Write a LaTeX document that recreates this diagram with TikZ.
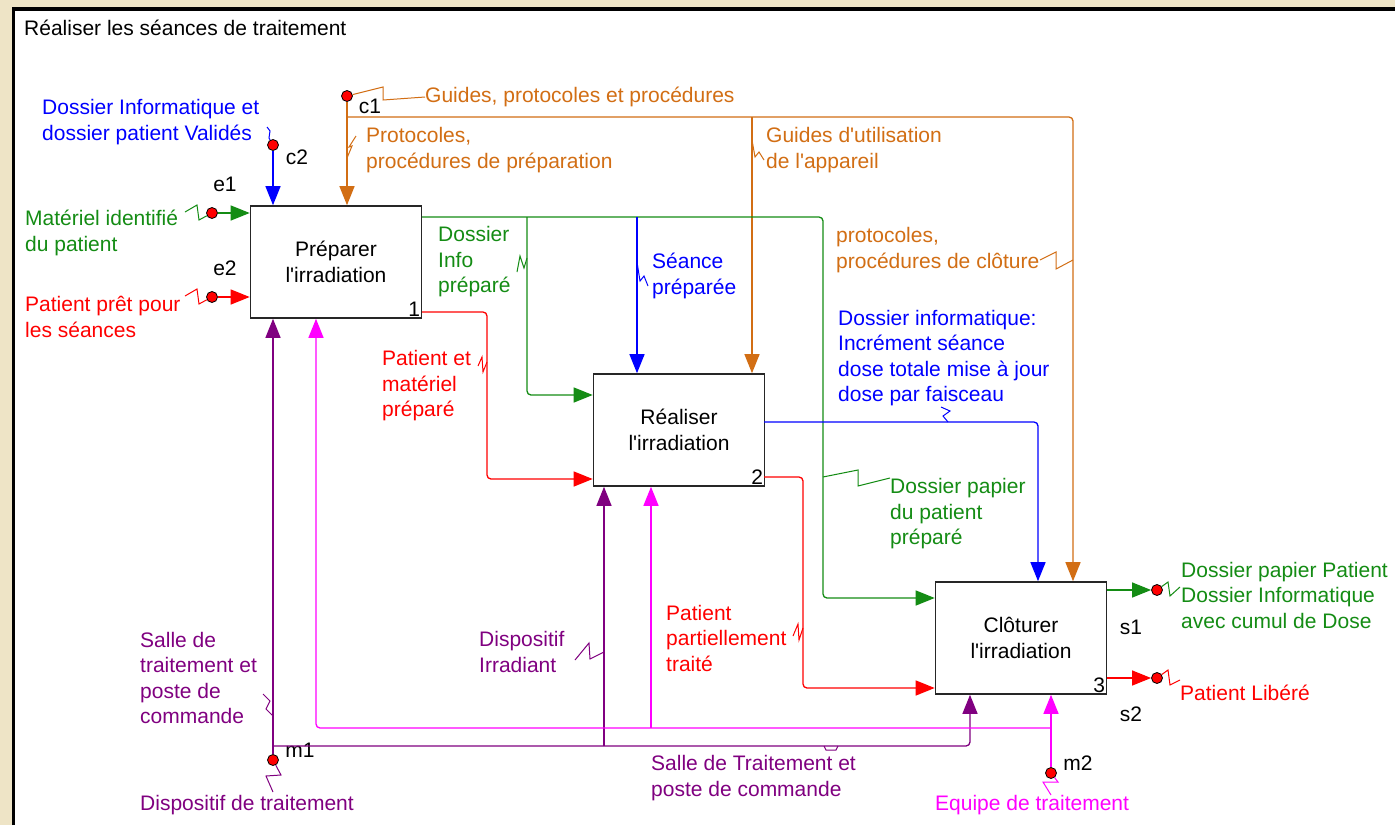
\documentclass[tikz,border=0pt]{standalone}
\usepackage{fontspec}
\setmainfont{Liberation Sans}
\usetikzlibrary{arrows.meta, positioning}

\definecolor{vert}{RGB}{20,140,20}
\definecolor{rouge}{RGB}{255,0,0}
\definecolor{bleu}{RGB}{0,0,255}
\definecolor{ocre}{RGB}{210,110,20}
\definecolor{pourpre}{RGB}{128,0,128}
\definecolor{rose}{RGB}{255,0,255}
\definecolor{fond}{RGB}{238,228,198}

\tikzstyle{Activity} = [rectangle, draw=black!85, line width=1.6pt, fill=white,
                        minimum width=171pt, minimum height=112pt, align=center]
\tikzstyle{Num} = [inner sep=2pt, anchor=south east]
\tikzstyle{Port} = [circle, draw=black, fill=red, line width=0.8pt, inner sep=0pt, minimum size=11pt]
\tikzstyle{Tag} = [inner sep=0pt, text=black]
\tikzstyle{Label} = [inner sep=0pt, anchor=west, align=left]
\tikzstyle{flow} = [-{Triangle[length=19pt,width=15pt]}, line width=1.3pt, rounded corners=4pt]
\tikzstyle{Squig} = [line width=1pt]

\begin{document}
\begin{tikzpicture}
    [x=1pt, y=-1pt, font=\fontsize{21}{25.5}\selectfont]

    %% Cadre
    \useasboundingbox (0,0) rectangle (1395,825);
    \fill[fond] (0,0) rectangle (1395,825);
    \fill[white] (14,9) rectangle (1395,825);
    \draw[line width=3.5pt] (13.5,825) -- (13.5,9) -- (1395,9);
    \node[Label] (titre) at (24,28) {Réaliser les séances de traitement};

    %% Activites
    \node[Activity] (prep) at (336,262) {Préparer\\l\textquotesingle irradiation};
    \node[Activity] (real) at (679,430) {Réaliser\\l\textquotesingle irradiation};
    \node[Activity] (clot) at (1021,638) {Clôturer\\l\textquotesingle irradiation};
    \node[Num] (n1) at (prep.south east) {1};
    \node[Num] (n2) at (real.south east) {2};
    \node[Num] (n3) at (clot.south east) {3};

    %% Frontieres
    \node[Port] (e1) at (212,213) {};
    \node[Port] (e2) at (212,297) {};
    \node[Port] (c1) at (347,96) {};
    \node[Port] (c2) at (273,145) {};
    \node[Port] (m1) at (273,760) {};
    \node[Port] (m2) at (1051,773) {};
    \node[Port] (s1) at (1157,590) {};
    \node[Port] (s2) at (1157,678) {};
    \node[Tag] (te1) at (225,184) {e1};
    \node[Tag] (te2) at (225,268) {e2};
    \node[Tag] (tc1) at (370,106) {c1};
    \node[Tag] (tc2) at (297,157) {c2};
    \node[Tag] (tm1) at (300,750) {m1};
    \node[Tag] (tm2) at (1078,763) {m2};
    \node[Tag] (ts1) at (1131,627) {s1};
    \node[Tag] (ts2) at (1131,714) {s2};

    %% Textes
    \node[Label, text=bleu] (lc2) at (42,122) {Dossier Informatique et\\dossier patient Validés};
    \node[Label, text=ocre] (lc1) at (425,97) {Guides, protocoles et procédures};
    \node[Label, text=ocre] (lpp) at (366,150) {Protocoles,\\procédures de préparation};
    \node[Label, text=ocre] (lgu) at (766,150) {Guides d\textquotesingle utilisation\\de l\textquotesingle appareil};
    \node[Label, text=ocre] (lpc) at (836,250) {protocoles,\\procédures de clôture};
    \node[Label, text=vert] (le1) at (25,233) {Matériel identifié\\du patient};
    \node[Label, text=rouge] (le2) at (25,317) {Patient prêt pour\\les séances};
    \node[Label, text=vert] (ldi) at (438,262) {Dossier\\Info\\préparé};
    \node[Label, text=bleu] (lsp) at (652,276) {Séance\\préparée};
    \node[Label, text=rouge] (lpm) at (382,386) {Patient et\\matériel\\préparé};
    \node[Label, text=bleu] (ldx) at (838,358) {Dossier informatique:\\Incrément séance\\dose totale mise à jour\\dose par faisceau};
    \node[Label, text=vert] (ldp) at (890,514) {Dossier papier\\du patient\\préparé};
    \node[Label, text=rouge] (lpt) at (666,638) {Patient\\partiellement\\traité};
    \node[Label, text=vert] (ls1) at (1181,595) {Dossier papier Patient\\Dossier Informatique\\avec cumul de Dose};
    \node[Label, text=rouge] (ls2) at (1180,693) {Patient Libéré};
    \node[Label, text=pourpre] (lst) at (140,678) {Salle de\\traitement et\\poste de\\commande};
    \node[Label, text=pourpre] (ldr) at (479,652) {Dispositif\\Irradiant};
    \node[Label, text=pourpre] (lm1) at (140,805) {Dispositif de traitement};
    \node[Label, text=pourpre] (lsc) at (651,778) {Salle de Traitement et\\poste de commande};
    \node[Label, text=rose] (lm2) at (935,805) {Equipe de traitement};

    %% Points de jonction
    \coordinate (oA) at (347,117);
    \coordinate (oB) at (752,117);
    \coordinate (oC) at (1073,117);
    \coordinate (g0) at (422,217);
    \coordinate (gA) at (527,217);
    \coordinate (gB) at (637,217);
    \coordinate (gD) at (823,598);
    \coordinate (gE) at (527,395);
    \coordinate (r0) at (422,312);
    \coordinate (rA) at (487,479);
    \coordinate (b0) at (764,422);
    \coordinate (bA) at (1038,422);
    \coordinate (r1) at (764,477);
    \coordinate (rB) at (803,688);
    \coordinate (pA) at (273,746);
    \coordinate (pB) at (604,746);
    \coordinate (pC) at (970,746);
    \coordinate (kA) at (1051,728);
    \coordinate (kB) at (651,728);
    \coordinate (kC) at (316,728);

    %% Entrees et controles
    \draw[flow, vert] (e1) -- (e1 -| prep.west);
    \draw[flow, rouge] (e2) -- (e2 -| prep.west);
    \draw[flow, bleu] (c2) -- (c2 |- prep.north);
    \draw[flow, ocre] (c1) -- (c1 |- prep.north);
    \draw[flow, ocre] (oA) -| (oC |- clot.north);
    \draw[flow, ocre] (oB) -- (oB |- real.north);

    %% Sorties
    \draw[flow, vert] (g0) -| (gD) -- (gD -| clot.west);
    \draw[flow, vert] (gA) |- (gE -| real.west);
    \draw[flow, bleu] (gB) -- (gB |- real.north);
    \draw[flow, rouge] (r0) -| (rA) -- (rA -| real.west);
    \draw[flow, bleu] (b0) -| (bA |- clot.north);
    \draw[flow, rouge] (r1) -| (rB) -- (rB -| clot.west);
    \draw[flow, vert] (s1 -| clot.east) -- (s1);
    \draw[flow, rouge] (s2 -| clot.east) -- (s2);

    %% Mecanismes
    \draw[flow, pourpre] (m1) -- (m1 |- prep.south);
    \draw[flow, pourpre] (pA) -| (pC |- clot.south);
    \draw[flow, pourpre] (pB) -- (pB |- real.south);
    \draw[flow, rose] (m2) -- (m2 |- clot.south);
    \draw[flow, rose] (kA) -| (kC |- prep.south);
    \draw[flow, rose] (kB) -- (kB |- real.south);

    %% Eclairs
    \draw[Squig, vert] (185,212) -- (197,205) -- (199,220) -- (e1);
    \draw[Squig, rouge] (185,296) -- (197,289) -- (199,304) -- (e2);
    \draw[Squig, bleu] (c2) -- (269,138) -- (270,131) -- (267,127);
    \draw[Squig, ocre] (c1) -- (383,87) -- (383,100) -- (lc1.west);
    \draw[Squig, ocre] (347,158) -- (352,146) -- (349,147) -- (356,136);
    \draw[Squig, ocre] (752,140) -- (755,157) -- (759,152) -- (764,160);
    \draw[Squig, ocre] (1040,260) -- (1056,252) -- (1056,269) -- (1073,260);
    \draw[Squig, vert] (517,272) -- (520,256) -- (524,268) -- (527,258);
    \draw[Squig, bleu] (637,262) -- (640,281) -- (644,276) -- (648,286);
    \draw[Squig, rouge] (478,366) -- (482,357) -- (483,372) -- (487,362);
    \draw[Squig, bleu] (941,407) -- (950,411) -- (943,416) -- (948,422);
    \draw[Squig, vert] (823,477) -- (858,470) -- (858,486) -- (890,478);
    \draw[Squig, rouge] (793,636) -- (798,624) -- (799,640) -- (803,628);
    \draw[Squig, vert] (s1) -- (1168,582) -- (1170,596) -- (1180,587);
    \draw[Squig, rouge] (s2) -- (1168,670) -- (1170,685) -- (1180,680);
    \draw[Squig, pourpre] (263,694) -- (270,701) -- (266,709) -- (273,716);
    \draw[Squig, pourpre] (575,660) -- (589,643) -- (590,659) -- (604,652);
    \draw[Squig, pourpre] (m1) -- (281,775) -- (266,776) -- (273,792);
    \draw[Squig, pourpre] (824,746) -- (826,750) -- (836,750) -- (838,746);
    \draw[Squig, rose] (m2) -- (1058,782) -- (1043,782) -- (1051,795);

\end{tikzpicture}
\end{document}
